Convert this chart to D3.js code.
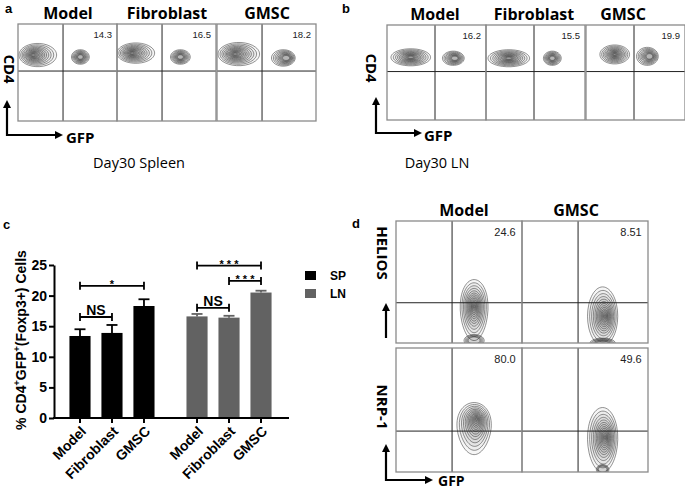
<!DOCTYPE html>
<html>
<head>
<meta charset="utf-8">
<script src="https://cdn.jsdelivr.net/npm/d3@7/dist/d3.min.js"></script>
<style>
  body { margin: 0; background: #fff; }
  svg { display: block; }
  .cal { font-family: "Open Sans", Lato, sans-serif; }
  .ari { font-family: "Liberation Sans", Arial, sans-serif; }
</style>
</head>
<body>
<div id="fig"></div>
<script>
// ---- data ----
const groups = ["Model", "Fibroblast", "GMSC"];
const tissues = ["SP", "LN"];
const spMean = [13.4, 13.9, 18.3];
const spUpper = [14.5, 15.2, 19.4];
const lnMean = [16.6, 16.4, 20.5];
const lnUpper = [17.0, 16.7, 20.8];
const yTicks = [0, 5, 10, 15, 20, 25];
const brackets = [
  { tissue: "SP", a: "Model", b: "GMSC", y: 21.6, label: "*" },
  { tissue: "SP", a: "Model", b: "Fibroblast", y: 16.5, label: "NS" },
  { tissue: "LN", a: "Model", b: "GMSC", y: 24.9, label: "* * *" },
  { tissue: "LN", a: "Fibroblast", b: "GMSC", y: 22.4, label: "* * *" },
  { tissue: "LN", a: "Model", b: "Fibroblast", y: 18.0, label: "NS" },
];

const spleenPct = ["14.3", "16.5", "18.2"];
const lnPct = ["16.2", "15.5", "19.9"];
const dRows = ["HELIOS", "NRP-1"];
const dCols = ["Model", "GMSC"];
const dPct = [["24.6", "8.51"], ["80.0", "49.6"]];

// contour populations, in fractions of each plot box (cx, cy from top)
const spleenBlobs = [
  [{ cx: .20, cy: .32, rx: .19, ry: .12, ox: -.05, oy: 0, egg: 0, n: 13 },
   { cx: .63, cy: .34, rx: .09, ry: .075, ox: 0, oy: 0, egg: 0, n: 9 }],
  [{ cx: .19, cy: .30, rx: .19, ry: .105, ox: -.04, oy: 0, egg: 0, n: 13 },
   { cx: .64, cy: .34, rx: .10, ry: .075, ox: 0, oy: 0, egg: 0, n: 9 }],
  [{ cx: .22, cy: .31, rx: .21, ry: .12, ox: -.04, oy: 0, egg: 0, n: 13 },
   { cx: .67, cy: .35, rx: .12, ry: .085, ox: .04, oy: 0, egg: 0, n: 9 }],
];
const lnBlobs = [
  [{ cx: .24, cy: .34, rx: .20, ry: .09, ox: 0, oy: 0, egg: 0, n: 12 },
   { cx: .67, cy: .35, rx: .11, ry: .075, ox: .02, oy: 0, egg: 0, n: 9 }],
  [{ cx: .23, cy: .35, rx: .21, ry: .09, ox: 0, oy: 0, egg: 0, n: 12 },
   { cx: .67, cy: .35, rx: .09, ry: .075, ox: 0, oy: 0, egg: 0, n: 9 }],
  [{ cx: .29, cy: .31, rx: .15, ry: .10, ox: 0, oy: 0, egg: 0, n: 13 },
   { cx: .62, cy: .33, rx: .11, ry: .095, ox: .03, oy: 0, egg: 0, n: 9 }],
];
const dBlobs = [
  [[{ cx: .62, cy: .73, rx: .11, ry: .25, ox: 0, oy: -.03, egg: .1, n: 14 },
    { cx: .62, cy: .98, rx: .08, ry: .05, ox: 0, oy: 0, egg: 0, n: 5 }],
   [{ cx: .64, cy: .78, rx: .12, ry: .24, ox: .02, oy: 0, egg: 0, n: 14 },
    { cx: .64, cy: 1.0, rx: .10, ry: .04, ox: 0, oy: 0, egg: 0, n: 7 }]],
  [[{ cx: .62, cy: .65, rx: .135, ry: .21, ox: .02, oy: -.08, egg: .15, n: 14 }],
   [{ cx: .64, cy: .74, rx: .12, ry: .26, ox: .02, oy: -.02, egg: .05, n: 14 },
    { cx: .64, cy: .98, rx: .05, ry: .04, ox: 0, oy: 0, egg: 0, n: 4 }]],
];
const ringLevels = [1, .88, .77, .67, .58, .5, .43, .36, .3, .24, .19, .14, .09, .05];

// ---- svg ----
const svg = d3.select("#fig").append("svg")
  .attr("width", 685).attr("height", 491);

const line = d3.line().curve(d3.curveCardinalClosed);
let clipId = 0;

function flowBox(x0, y0, w, h, qx, qy, blobs, pct, pctFont) {
  const sx = d3.scaleLinear().domain([0, 1]).range([x0, x0 + w]);
  const sy = d3.scaleLinear().domain([0, 1]).range([y0, y0 + h]);
  const id = "clip" + (clipId++);
  svg.append("clipPath").attr("id", id)
    .append("rect").attr("x", x0).attr("y", y0).attr("width", w).attr("height", h);
  const g = svg.append("g").attr("clip-path", "url(#" + id + ")");
  blobs.forEach(b => {
    ringLevels.slice(0, b.n).forEach(k => {
      const cx = b.cx + b.ox * (1 - k), cy = b.cy + b.oy * (1 - k);
      const pts = d3.range(30).map(i => {
        const t = i / 30 * 2 * Math.PI;
        const e = 1 - b.egg * Math.sin(t);
        return [sx(cx + b.rx * k * Math.cos(t) * e), sy(cy + b.ry * k * Math.sin(t))];
      });
      g.append("path").attr("d", line(pts))
        .attr("fill", "#000").attr("fill-opacity", 0.035)
        .attr("stroke", "#4a4a4a").attr("stroke-width", 0.6);
    });
  });
  svg.append("line").attr("x1", sx(qx)).attr("x2", sx(qx)).attr("y1", y0).attr("y2", y0 + h)
    .attr("stroke", "#222").attr("stroke-width", 1);
  svg.append("line").attr("x1", x0).attr("x2", x0 + w).attr("y1", sy(qy)).attr("y2", sy(qy))
    .attr("stroke", "#222").attr("stroke-width", 1);
  svg.append("rect").attr("x", x0).attr("y", y0).attr("width", w).attr("height", h)
    .attr("fill", "none").attr("stroke", "#8a8a8a").attr("stroke-width", 1.3);
  svg.append("text").attr("class", "ari")
    .attr("x", sx(0.95)).attr("y", y0 + pctFont + 4)
    .attr("text-anchor", "end").attr("font-size", pctFont).attr("fill", "#222")
    .text(pct);
}

function arrowHead(x, y, dir) {
  const s = 4, l = 8;
  const pts = dir === "up"
    ? [[x, y], [x - s, y + l], [x + s, y + l]]
    : [[x, y], [x - l, y - s], [x - l, y + s]];
  svg.append("path").attr("d", "M" + pts.join("L") + "Z").attr("fill", "#000");
}

function axisArrows(x, yTop, yCorner, xRight) {
  svg.append("path")
    .attr("d", `M${x},${yTop + 6}V${yCorner}H${xRight - 6}`)
    .attr("fill", "none").attr("stroke", "#000").attr("stroke-width", 2.2);
  arrowHead(x, yTop, "up");
  arrowHead(xRight, yCorner, "right");
}

function label(x, y, txt, size, cls, weight, anchor, rot) {
  const t = svg.append("text").attr("class", cls)
    .attr("font-size", size).attr("font-weight", weight)
    .attr("text-anchor", anchor || "middle").text(txt);
  if (rot) t.attr("transform", `translate(${x},${y}) rotate(${rot})`);
  else t.attr("x", x).attr("y", y);
  return t;
}

// ---- panel a ----
label(5, 13, "a", 13, "ari", "bold", "start");
const aX = [18, 117, 217];
aX.forEach((x0, i) => {
  flowBox(x0, 24, 99, 97, 0.455, 0.485, spleenBlobs[i], spleenPct[i], 9.5);
  label(x0 + 50, 19, groups[i], 16, "cal", "bold");
});
label(9, 69, "CD4", 15, "cal", "bold", "middle", 90).attr("dy", "0.35em");
axisArrows(7, 100, 135, 63);
label(66, 143, "GFP", 15, "cal", "bold", "start");
label(139, 168, "Day30 Spleen", 14.5, "cal", "normal");

// ---- panel b ----
label(342, 13, "b", 13, "ari", "bold", "start");
const bX = [387, 486, 586];
bX.forEach((x0, i) => {
  flowBox(x0, 25, 99, 95, 0.485, 0.49, lnBlobs[i], lnPct[i], 9.5);
  label(x0 + 48 - (i === 2 ? 11 : 0), 20, groups[i], 16, "cal", "bold");
});
label(371, 68, "CD4", 15, "cal", "bold", "middle", 90).attr("dy", "0.35em");
axisArrows(376, 97, 133, 422);
label(424, 141, "GFP", 15, "cal", "bold", "start");
label(437, 168, "Day30 LN", 14.5, "cal", "normal");

// ---- panel d ----
label(352, 228, "d", 13, "ari", "bold", "start");
const dX = [396, 522], dY = [221, 348], dH = [122, 124];
dRows.forEach((r, ri) => {
  dCols.forEach((c, ci) => {
    flowBox(dX[ci], dY[ri], 126, dH[ri], 0.445, 0.67, dBlobs[ri][ci], dPct[ri][ci], 11);
  });
});
dCols.forEach((c, ci) => label(dX[ci] + 68 - ci * 14, 216, c, 16, "cal", "bold"));
label(382, 253, "HELIOS", 15, "cal", "bold", "middle", 90).attr("dy", "0.35em");
label(382, 407, "NRP-1", 15, "cal", "bold", "middle", 90).attr("dy", "0.35em");
svg.append("line").attr("x1", 386).attr("x2", 386).attr("y1", 309).attr("y2", 338)
  .attr("stroke", "#000").attr("stroke-width", 2.2);
arrowHead(386, 303, "up");
axisArrows(386, 444, 480, 433);
label(438, 486, "GFP", 14, "cal", "bold", "start");

// ---- panel c: bar chart ----
label(3, 229, "c", 13, "ari", "bold", "start");
const y = d3.scaleLinear().domain([0, 25]).range([418, 265]);
const gx = d3.scaleBand().domain(tissues).range([64, 277]).paddingInner(0.18);
const ix = d3.scaleBand().domain(groups).range([0, gx.bandwidth()])
  .paddingInner(0.34).paddingOuter(0.17);
const color = d3.scaleOrdinal().domain(tissues).range(["#000000", "#626262"]);
const cx = (t, g) => gx(t) + ix(g) + ix.bandwidth() / 2;

const barData = tissues.flatMap(t => groups.map((g, i) => ({
  t, g,
  v: t === "SP" ? spMean[i] : lnMean[i],
  up: t === "SP" ? spUpper[i] : lnUpper[i],
})));

const chart = svg.append("g");
chart.selectAll("rect.bar").data(barData).enter().append("rect")
  .attr("class", "bar")
  .attr("x", d => gx(d.t) + ix(d.g))
  .attr("y", d => y(d.v))
  .attr("width", ix.bandwidth())
  .attr("height", d => y(0) - y(d.v))
  .attr("fill", d => color(d.t));

const err = chart.selectAll("g.err").data(barData).enter().append("g")
  .attr("stroke", d => color(d.t)).attr("stroke-width", 1.8);
err.append("line")
  .attr("x1", d => cx(d.t, d.g)).attr("x2", d => cx(d.t, d.g))
  .attr("y1", d => y(d.v)).attr("y2", d => y(d.up));
err.append("line")
  .attr("x1", d => cx(d.t, d.g) - 5.5).attr("x2", d => cx(d.t, d.g) + 5.5)
  .attr("y1", d => y(d.up)).attr("y2", d => y(d.up));

// y axis
const yAx = chart.append("g").attr("transform", "translate(54,0)")
  .call(d3.axisLeft(y).tickValues(yTicks).tickSize(5).tickSizeOuter(0).tickPadding(2));
yAx.select(".domain").attr("stroke-width", 2);
yAx.selectAll(".tick line").attr("stroke-width", 2);
yAx.selectAll("text")
  .attr("font-family", "Liberation Sans, Arial, sans-serif")
  .attr("font-size", 14).attr("font-weight", "bold").attr("fill", "#000");

// x baseline + ticks
chart.append("line").attr("x1", 53).attr("x2", 289).attr("y1", y(0)).attr("y2", y(0))
  .attr("stroke", "#000").attr("stroke-width", 2);
tissues.forEach(t => {
  const ax = chart.append("g").attr("transform", `translate(${gx(t)},${y(0)})`)
    .call(d3.axisBottom(ix).tickSize(5).tickSizeOuter(0));
  ax.select(".domain").remove();
  ax.selectAll(".tick line").attr("stroke-width", 2);
  ax.selectAll("text")
    .attr("font-family", "Liberation Sans, Arial, sans-serif")
    .attr("font-size", 14).attr("font-weight", "bold").attr("fill", "#000")
    .attr("text-anchor", "end")
    .attr("x", -5).attr("y", 15).attr("dy", 0)
    .attr("transform", "rotate(-45)");
});

// y title
const yt = svg.append("text").attr("class", "ari")
  .attr("transform", "translate(26,340) rotate(-90)")
  .attr("text-anchor", "middle").attr("font-size", 14).attr("font-weight", "bold");
yt.append("tspan").text("% CD4");
yt.append("tspan").attr("font-size", 9).attr("dy", -6).text("+");
yt.append("tspan").attr("dy", 6).text("GFP");
yt.append("tspan").attr("font-size", 9).attr("dy", -6).text("+");
yt.append("tspan").attr("dy", 6).text("(Foxp3+) Cells");

// significance brackets
const br = chart.selectAll("g.br").data(brackets).enter().append("g");
br.append("path")
  .attr("d", d => {
    const x1 = cx(d.tissue, d.a), x2 = cx(d.tissue, d.b), yy = y(d.y);
    return `M${x1},${yy - 4}V${yy + 4}M${x1},${yy}H${x2}M${x2},${yy - 4}V${yy + 4}`;
  })
  .attr("fill", "none").attr("stroke", "#000").attr("stroke-width", 1.8);
br.append("text").attr("class", "ari")
  .attr("x", d => (cx(d.tissue, d.a) + cx(d.tissue, d.b)) / 2)
  .attr("y", d => y(d.y) - (d.label === "NS" ? 2 : -2))
  .attr("text-anchor", "middle").attr("font-weight", "bold")
  .attr("font-size", d => d.label === "NS" ? 14 : 11)
  .text(d => d.label);

// legend
const lg = svg.append("g").selectAll("g").data(tissues).enter().append("g")
  .attr("transform", (d, i) => `translate(305,${271 + i * 18})`);
lg.append("rect").attr("width", 11).attr("height", 9).attr("fill", d => color(d));
lg.append("text").attr("class", "ari").attr("x", 25).attr("y", 9)
  .attr("font-size", 12).attr("font-weight", "bold").text(d => d);
</script>
</body>
</html>
